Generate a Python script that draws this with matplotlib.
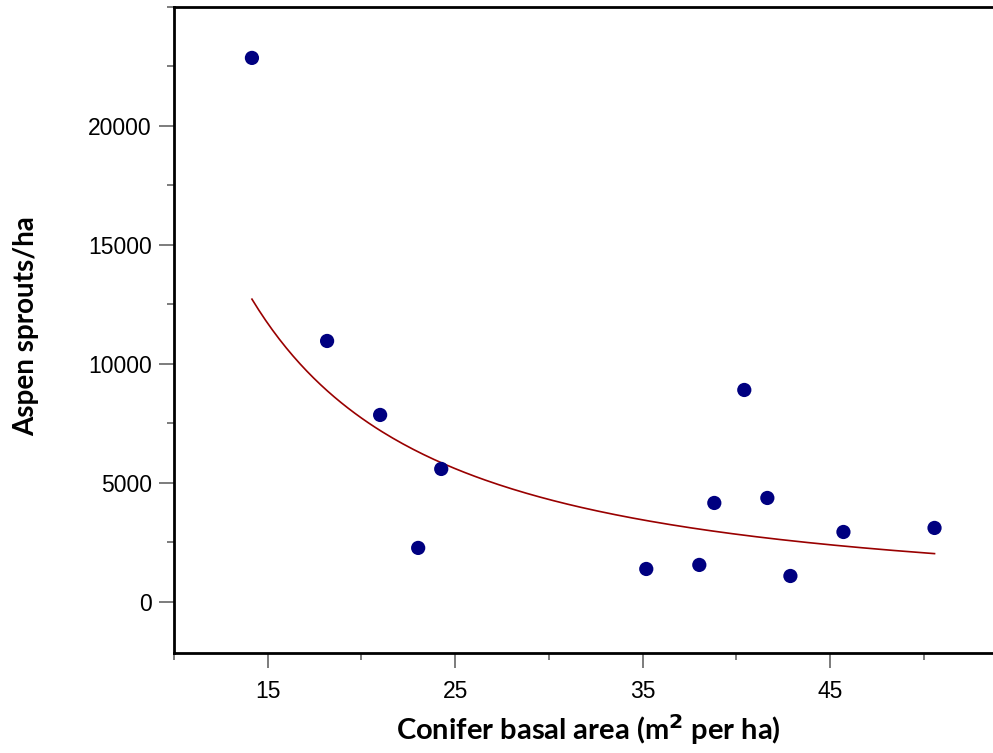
import numpy as np
import matplotlib
matplotlib.use("Agg")
import matplotlib.pyplot as plt
from matplotlib.ticker import MultipleLocator

conifer_ba = [14.16, 18.17, 21.0, 23.03, 24.26, 35.2, 38.03, 38.83, 40.43, 41.66, 42.89, 45.72, 50.58]
sprouts = [22860, 10960, 7850, 2260, 5580, 1375, 1545, 4150, 8900, 4360, 1080, 2930, 3100]

x_ticks = [15, 25, 35, 45]
y_ticks = [0, 5000, 10000, 15000, 20000]

fig = plt.figure(figsize=(9.93, 7.53), dpi=100)
ax = fig.add_axes([0.1752, 0.1332, 0.8248, 0.8575])

x = np.array(conifer_ba)
y = np.array(sprouts)
b, ln_a = np.polyfit(np.log(x), np.log(y), 1)
xs = np.linspace(x.min(), x.max(), 200)
ax.plot(xs, np.exp(ln_a) * xs ** b, color="#990000", lw=1.2, zorder=2)

ax.scatter(conifer_ba, sprouts, s=105, color="#000080", zorder=3, edgecolors="none")

ax.set_xlim(10, 53.7)
ax.set_ylim(-2145, 25000)
ax.set_xticks(x_ticks)
ax.set_yticks(y_ticks)
ax.xaxis.set_minor_locator(MultipleLocator(5))
ax.yaxis.set_minor_locator(MultipleLocator(2500))

for s in ["left", "bottom", "top"]:
    ax.spines[s].set_linewidth(2)
    ax.spines[s].set_color("black")
ax.spines["right"].set_visible(False)

ax.tick_params(axis="both", which="major", length=11, width=1.2, color="#666666",
               labelsize=16.5, labelcolor="black")
ax.tick_params(axis="both", which="minor", length=5, width=1.2, color="#666666")
ax.tick_params(axis="x", which="major", pad=9)
ax.tick_params(axis="y", which="major", pad=5)
for lab in ax.get_xticklabels() + ax.get_yticklabels():
    lab.set_fontfamily("Liberation Sans")

ax.set_xlabel(r"Conifer basal area (m$^{\mathbf{2}}$ per ha)", fontsize=21,
              fontweight="bold", family="Lato")
ax.set_ylabel("Aspen sprouts/ha", fontsize=20, fontweight="bold", family="Lato")
ax.xaxis.set_label_coords(0.5055, -0.092)
ax.yaxis.set_label_coords(-0.165, 0.505)

fig.savefig("out.png", dpi=100)
